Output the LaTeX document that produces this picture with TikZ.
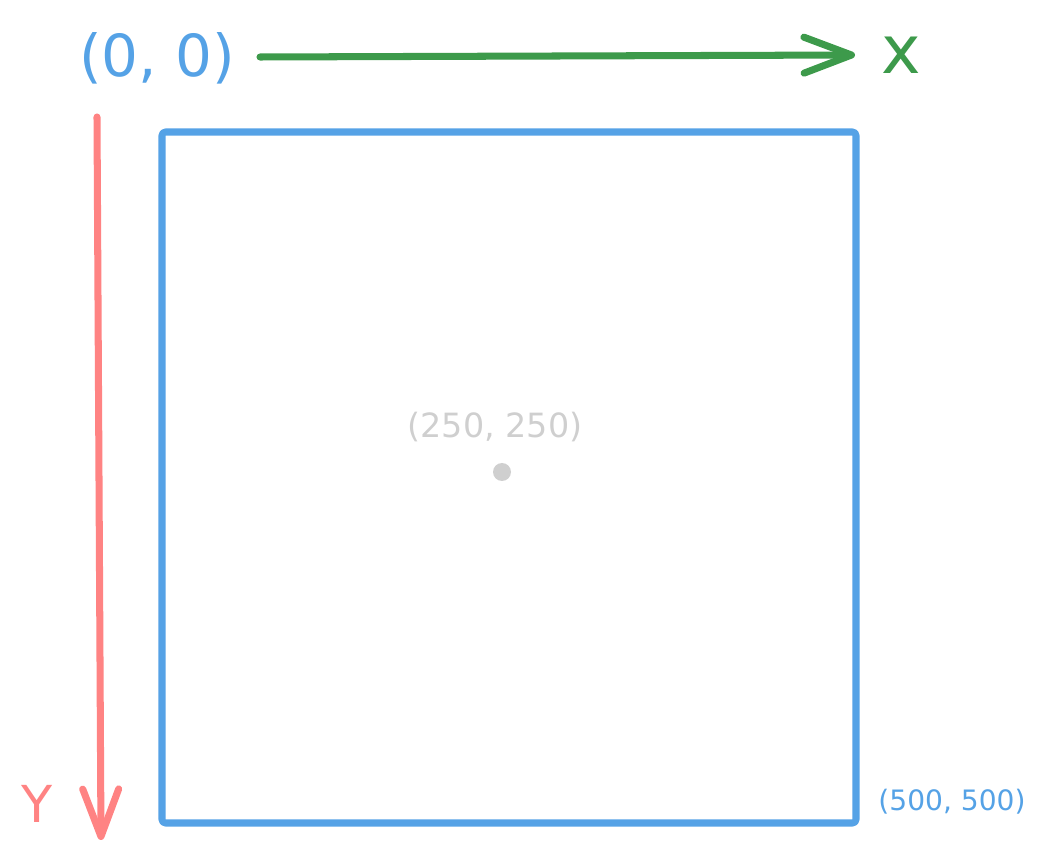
\documentclass[tikz,border=0pt]{standalone}
\usepackage{fontspec}
\setmainfont{DejaVu Sans}
\usetikzlibrary{arrows.meta}
\definecolor{ejeverde}{HTML}{3D9A4B}
\definecolor{ejerojo}{HTML}{FF8383}
\definecolor{lienzoazul}{HTML}{55A2E6}
\definecolor{gris}{HTML}{CFCFCF}

\begin{document}
\begin{tikzpicture}[x=0.02cm, y=-0.02cm,
  trazo/.style={line width=4pt, line cap=round, line join=round},
  flecha/.style={trazo, -{Straight Barb[length=0.95cm, width=0.72cm, round]}},
  etiqueta/.style={inner sep=0pt}]
  \useasboundingbox (0,0) rectangle (1046,861);

  % Origen
  \node[etiqueta, lienzoazul, font=\fontsize{33pt}{36pt}\selectfont] (origen) at (157,58) {(0, 0)};

  % Eje x
  \coordinate (xini) at (260,57);
  \coordinate (xfin) at (855,55);
  \draw[flecha, ejeverde] (xini) -- (xfin);
  \node[etiqueta, ejeverde, font=\fontsize{38pt}{40pt}\selectfont] (ejex) at (901,55) {x};

  % Eje y
  \coordinate (yini) at (97,117);
  \coordinate (yfin) at (101,840);
  \draw[flecha, ejerojo] (yini) -- (yfin);
  \node[etiqueta, ejerojo, font=\fontsize{29pt}{31pt}\selectfont] (ejey) at (37,804) {Y};

  % Lienzo
  \draw[trazo, lienzoazul, rounded corners=2pt] (162,132) rectangle (856,823);

  % Punto central
  \node[circle, fill=gris, minimum size=0.36cm, inner sep=0pt] (centro) at (502,472) {};
  \node[etiqueta, gris, font=\fontsize{19pt}{21pt}\selectfont] (centrotxt) at (495,427) {(250, 250)};

  % Esquina
  \node[etiqueta, lienzoazul, font=\fontsize{16pt}{18pt}\selectfont] (esquina) at (952,802) {(500, 500)};

\end{tikzpicture}
\end{document}
